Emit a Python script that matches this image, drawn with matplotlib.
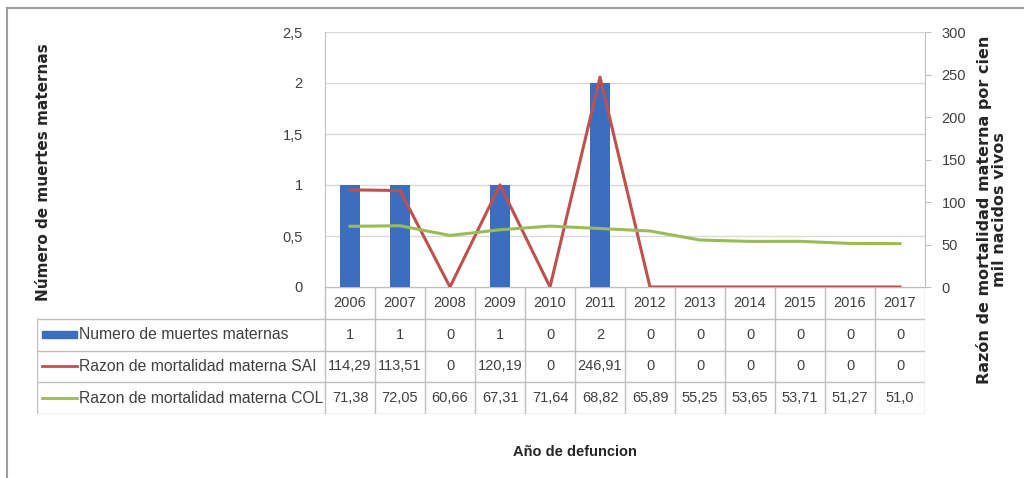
import numpy as np
import matplotlib.pyplot as plt
from matplotlib.patches import Rectangle
from matplotlib.lines import Line2D

years = ["2006", "2007", "2008", "2009", "2010", "2011", "2012", "2013", "2014", "2015", "2016", "2017"]
muertes = [1, 1, 0, 1, 0, 2, 0, 0, 0, 0, 0, 0]
razon_sai = [114.29, 113.51, 0, 120.19, 0, 246.91, 0, 0, 0, 0, 0, 0]
razon_col = [71.38, 72.05, 60.66, 67.31, 71.64, 68.82, 65.89, 55.25, 53.65, 53.71, 51.27, 51.0]
sai_labels = ["114,29", "113,51", "0", "120,19", "0", "246,91", "0", "0", "0", "0", "0", "0"]
col_labels = ["71,38", "72,05", "60,66", "67,31", "71,64", "68,82", "65,89", "55,25", "53,65", "53,71", "51,27", "51,0"]
row_names = ["Numero de muertes maternas", "Razon de mortalidad materna SAI", "Razon de mortalidad materna COL"]

BLUE = "#3D6DBF"
RED = "#C0504D"
GREEN = "#9BBB59"
GRID = "#D9D9D9"
BORDER = "#BFBFBF"
TXT = "#404040"

plt.rcParams["font.family"] = ["Liberation Sans", "DejaVu Sans"]

W, H = 1024, 478
fig = plt.figure(figsize=(W / 100, H / 100), dpi=100)


def box(x0, y0, x1, y1):
    return [x0 / W, 1 - y1 / H, (x1 - x0) / W, (y1 - y0) / H]


# frame edges (only top and left show in the screenshot)
fig.add_artist(Line2D([7 / W, 1], [1 - 8 / H, 1 - 8 / H], transform=fig.transFigure,
                      color="#A0A0A0", linewidth=1.5))
fig.add_artist(Line2D([7 / W, 7 / W], [0, 1 - 8 / H], transform=fig.transFigure,
                      color="#A0A0A0", linewidth=1.5))

x = np.arange(len(years))
ax = fig.add_axes(box(325, 32, 925, 287))
ax.bar(x, muertes, width=0.4, color=BLUE, zorder=2)
ax.set_xlim(-0.5, len(years) - 0.5)
ax.set_ylim(0, 2.5)
ax.set_yticks(np.arange(0, 2.51, 0.5))
ax.set_yticklabels(["0", "0,5", "1", "1,5", "2", "2,5"])
ax.set_xticks([])
ax.grid(axis="y", color=GRID, linewidth=1, zorder=0)
for s in ["top", "bottom", "right"]:
    ax.spines[s].set_visible(False)
ax.spines["left"].set_color(BORDER)
ax.tick_params(axis="y", length=0, labelsize=10.5, labelcolor=TXT, pad=16)

ax2 = ax.twinx()
ax2.plot(x, razon_sai, color=RED, linewidth=2.2, zorder=3)
ax2.plot(x, razon_col, color=GREEN, linewidth=2.2, zorder=3)
ax2.set_ylim(0, 300)
ax2.set_yticks(np.arange(0, 301, 50))
for s in ["top", "bottom", "left"]:
    ax2.spines[s].set_visible(False)
ax2.spines["right"].set_color(BORDER)
ax2.tick_params(axis="y", length=4, color=BORDER, labelsize=10.5, labelcolor=TXT, pad=8)

fig.text(44 / W, 1 - 172 / H, "Número de muertes maternas", rotation=90, ha="center", va="center",
         fontsize=11, fontweight="bold", color="#262626", family="DejaVu Sans")
fig.text(992 / W, 1 - 210 / H, "Razón de mortalidad materna por cien\nmil nacidos vivos", rotation=90,
         ha="center", va="center", multialignment="center", fontsize=11.5, fontweight="bold",
         color="#262626", family="DejaVu Sans", linespacing=1.0)

# data table
left = -0.5 - (325 - 37) / 50
tab = fig.add_axes(box(37, 287, 925, 414))
tab.set_xlim(left, len(years) - 0.5)
tab.set_ylim(4, 0)
tab.axis("off")
lc = dict(color=BORDER, linewidth=1)
tab.plot([-0.5, len(years) - 0.5], [0, 0], **lc)
for r in range(1, 5):
    tab.plot([left, len(years) - 0.5], [r, r], **lc)
tab.plot([left, left], [1, 4], **lc)
for c in range(len(years) + 1):
    tab.plot([c - 0.5, c - 0.5], [0, 4], **lc)

rows = [[str(v) for v in muertes], sai_labels, col_labels]
for i, yr in enumerate(years):
    tab.text(i, 0.5, yr, ha="center", va="center", fontsize=10.5, color=TXT)
    for r in range(3):
        tab.text(i, r + 1.5, rows[r][i], ha="center", va="center", fontsize=10.5, color=TXT)

kx0, kx1 = left + 0.1, left + 0.8
tab.add_patch(Rectangle((kx0, 1.38), kx1 - kx0, 0.24, color=BLUE))
tab.plot([kx0, kx1], [2.5, 2.5], color=RED, linewidth=2)
tab.plot([kx0, kx1], [3.5, 3.5], color=GREEN, linewidth=2)
for r, name in enumerate(row_names):
    tab.text(kx1 + 0.04, r + 1.5, name, ha="left", va="center", fontsize=11.3, color=TXT)

fig.text(575 / W, 1 - 452 / H, "Año de defuncion", ha="center", va="center",
         fontsize=10.5, fontweight="bold", color="#262626")

fig.savefig("out.png", dpi=100)
